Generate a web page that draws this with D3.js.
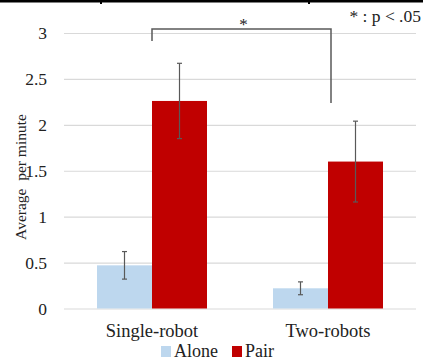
<!DOCTYPE html>
<html>
<head>
<meta charset="utf-8">
<script src="https://cdn.jsdelivr.net/npm/d3@7/dist/d3.min.js"></script>
</head>
<body style="margin:0;background:#fff">
<svg id="fig" width="423" height="362" style="font-family:'Liberation Serif'"></svg>
<script>
// Conditions and groups
const categories = ["Single-robot", "Two-robots"];
const seriesNames = ["Alone", "Pair"];
// Mean per minute and error half-width for each condition
const aloneValues = [0.47, 0.22];
const aloneErrors = [0.15, 0.07];
const pairValues = [2.26, 1.60];
const pairErrors = [0.41, 0.44];
const yTicks = [0, 0.5, 1, 1.5, 2, 2.5, 3];
const yTickLabels = ["0", "0.5", "1", "1.5", "2", "2.5", "3"];
const colors = ["#bdd7ee", "#c00000"];
const FONT = '"Liberation Serif"';
const TEXT = "#222";

const svg = d3.select("#fig");
const margin = { left: 64, right: 7, top: 33, bottom: 53 };
const W = 423, H = 362;

const x = d3.scaleBand().domain(categories)
  .range([margin.left, W - margin.right]).paddingInner(0).paddingOuter(0);
const inner = d3.scaleBand().domain(seriesNames)
  .range([0, x.bandwidth()]).paddingInner(0).paddingOuter(0.6);
const y = d3.scaleLinear().domain([0, 3]).range([H - margin.bottom - 0.5, margin.top]);

// Frame line across the top edge
svg.append("rect").attr("x", 0).attr("y", 0).attr("width", W).attr("height", 2.5).attr("fill", "#000");
[100, 308].forEach(px => svg.append("rect").attr("x", px).attr("y", 0).attr("width", 2).attr("height", 4).attr("fill", "#000"));

function label(sel, size) {
  return sel.attr("font-family", "Liberation Serif")
    .style("font-family", FONT, "important")
    .attr("font-size", size)
    .attr("fill", TEXT);
}

// Gridlines and tick labels
const yAxis = d3.axisLeft(y).tickValues(yTicks)
  .tickFormat((d, i) => yTickLabels[i])
  .tickSize(-(W - margin.left - margin.right)).tickPadding(17);
const gy = svg.append("g").attr("transform", `translate(${margin.left},0)`).call(yAxis);
gy.attr("font-family", "Liberation Serif").attr("font-size", 17.5);
gy.select(".domain").remove();
gy.selectAll(".tick line").attr("stroke", "#d9d9d9").attr("stroke-width", 1.2);
label(gy.selectAll(".tick text"), 17.5);

// Bars
const data = categories.map((c, i) => ({
  cat: c,
  items: [
    { s: "Alone", v: aloneValues[i], e: aloneErrors[i] },
    { s: "Pair", v: pairValues[i], e: pairErrors[i] }
  ]
}));
const groups = svg.append("g").selectAll("g").data(data).join("g")
  .attr("transform", d => `translate(${x(d.cat)},0)`);
groups.selectAll("rect").data(d => d.items).join("rect")
  .attr("x", d => inner(d.s))
  .attr("width", inner.bandwidth())
  .attr("y", d => y(d.v))
  .attr("height", d => y(0) - y(d.v))
  .attr("fill", (d, i) => colors[i]);

// Error bars
const eb = groups.selectAll("g.err").data(d => d.items).join("g").attr("class", "err")
  .attr("stroke", "#595959").attr("stroke-width", 1.2);
const cx = d => inner(d.s) + inner.bandwidth() / 2;
eb.append("line").attr("x1", cx).attr("x2", cx)
  .attr("y1", d => y(d.v + d.e)).attr("y2", d => y(d.v - d.e));
eb.append("line").attr("x1", d => cx(d) - 2.5).attr("x2", d => cx(d) + 2.5)
  .attr("y1", d => y(d.v + d.e)).attr("y2", d => y(d.v + d.e));
eb.append("line").attr("x1", d => cx(d) - 2.5).attr("x2", d => cx(d) + 2.5)
  .attr("y1", d => y(d.v - d.e)).attr("y2", d => y(d.v - d.e));

// Significance bracket between the pair conditions
const bx1 = x(categories[0]) + inner("Pair");
const bx2 = x(categories[1]) + inner("Pair") + 3;
const by = y(3) - 4;
svg.append("path")
  .attr("d", `M${bx1},${by + 12}V${by}H${bx2}V${by + 74}`)
  .attr("fill", "none").attr("stroke", "#595959").attr("stroke-width", 1.5);
label(svg.append("text"), 17).attr("x", (bx1 + bx2) / 2 + 2).attr("y", by + 1)
  .attr("text-anchor", "middle").text("*");
label(svg.append("text"), 17.5).attr("x", 421).attr("y", 22)
  .attr("text-anchor", "end").text("* : p < .05");

// Category labels
label(svg.append("g").selectAll("text").data(categories).join("text"), 18.5)
  .attr("x", d => x(d) + x.bandwidth() / 2).attr("y", 337)
  .attr("text-anchor", "middle").text(d => d);

// Axis title
label(svg.append("text"), 15.5)
  .attr("transform", `translate(26,${177}) rotate(-90)`)
  .attr("text-anchor", "middle")
  .style("white-space", "pre")
  .text("Average  per minute");

// Legend
const legend = svg.append("g").selectAll("g").data(seriesNames).join("g")
  .attr("transform", (d, i) => `translate(${[161, 232][i]},346)`);
legend.append("rect").attr("width", 10).attr("height", 11).attr("fill", (d, i) => colors[i]);
label(legend.append("text"), 18).attr("x", 13).attr("y", 11).text(d => d);
</script>
</body>
</html>
